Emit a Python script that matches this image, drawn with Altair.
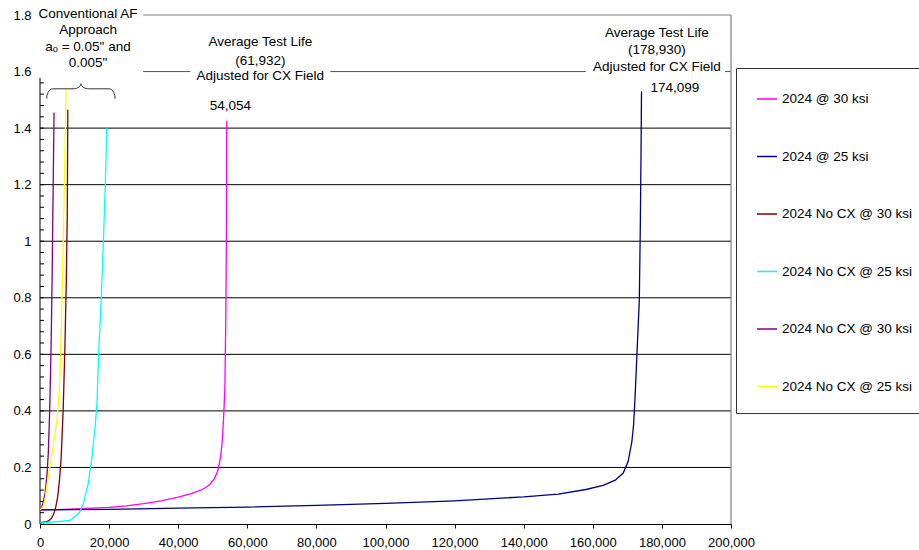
import altair as alt
import pandas as pd
import numpy as np

# ---------------- data ----------------
series_ids = ["s1", "s2", "s3", "s4", "s5", "s6"]
series_labels = ["2024 @ 30 ksi", "2024 @ 25 ksi", "2024 No CX @ 30 ksi",
                 "2024 No CX @ 25 ksi", "2024 No CX @ 30 ksi", "2024 No CX @ 25 ksi"]
series_colors = ["#FF00FF", "#000080", "#800000", "#00FFFF", "#800080", "#FFFF00"]

s1_n = [0, 5000, 10000, 15000, 20000, 25000, 30000, 35000, 40000, 44000, 47000, 49000,
        50500, 51500, 52300, 52800, 53200, 53500, 53750, 53950, 54054]
s1_a = [0.050, 0.051, 0.053, 0.056, 0.059, 0.064, 0.072, 0.082, 0.095, 0.108, 0.122, 0.138,
        0.160, 0.190, 0.240, 0.300, 0.390, 0.480, 0.700, 1.000, 1.425]

s2_n = [0, 20000, 40000, 60000, 80000, 100000, 120000, 140000, 150000, 158000, 163000,
        166500, 168800, 170200, 171300, 171800, 172200, 172700, 173100, 173460, 173750,
        173950, 174099]
s2_a = [0.050, 0.052, 0.056, 0.060, 0.066, 0.073, 0.082, 0.096, 0.106, 0.122, 0.137,
        0.155, 0.180, 0.220, 0.290, 0.350, 0.440, 0.580, 0.690, 0.790, 1.050,
        1.300, 1.530]

s3_n = [0, 1500, 2500, 3300, 4000, 4600, 5100, 5600, 6100, 6700, 7200, 7600, 7900, 8050]
s3_a = [0.005, 0.007, 0.011, 0.020, 0.036, 0.062, 0.095, 0.150, 0.230, 0.400, 0.620, 0.850,
        1.100, 1.465]

s4_n = [0, 5000, 8500, 9500, 10500, 11600, 12500, 13000, 14000, 14500, 15000, 15500, 16000,
        16500, 17000, 17700, 18350, 18900, 19330]
s4_a = [0.004, 0.008, 0.013, 0.020, 0.030, 0.045, 0.070, 0.095, 0.145, 0.190, 0.230, 0.290,
        0.350, 0.430, 0.610, 0.790, 1.000, 1.200, 1.400]

s5_n = [0, 500, 1000, 1500, 2000, 2400, 2800, 3200, 3500, 3700, 3900, 4060]
s5_a = [0.050, 0.060, 0.080, 0.110, 0.170, 0.250, 0.400, 0.620, 0.860, 1.080, 1.280, 1.455]

s6_n = [0, 500, 1000, 1500, 2000, 2500, 3000, 3500, 4000, 4500, 5000, 5500, 6000, 6500,
        7000, 7550]
s6_a = [0.050, 0.056, 0.065, 0.090, 0.135, 0.175, 0.210, 0.250, 0.290, 0.330, 0.380, 0.460,
        0.600, 0.870, 1.170, 1.540]

x_ticks = list(range(0, 200001, 20000))
y_ticks = [round(0.2 * i, 1) for i in range(10)]
grid_y = [0.2, 0.4, 0.6, 0.8, 1.0, 1.2, 1.4]
minor_y = [round(0.04 * i, 2) for i in range(40)]  # 0 .. 1.56

# annotation text lines
ann_text = ["Conventional AF", "Approach", "a\u2092 = 0.05\" and", "0.005\"",
            "Average Test Life", "(61,932)", "Adjusted for CX Field", "54,054",
            "Average Test Life", "(178,930)", "Adjusted for CX Field", "174,099"]
ann_x = [13900, 13900, 13900, 13900,
         63770, 63770, 63770, 55070,
         178550, 178550, 178550, 183770]
ann_y = [1.804, 1.748, 1.688, 1.632,
         1.703, 1.639, 1.583, 1.479,
         1.736, 1.675, 1.616, 1.542]

# broken 1.6 gridline segments (gaps where the annotation boxes sit)
seg16_x1 = [29855, 84058, 198260]
seg16_x2 = [43478, 157971, 200000]

# brace parameters
brace_xl, brace_xr = 1940, 21740
brace_y_end, brace_y_flat, brace_y_peak = 1.504, 1.539, 1.557
brace_rx_end, brace_rx_mid = 1740, 2300

# ---------------- frames ----------------
rows = []
for sid, ns, as_ in zip(series_ids,
                        [s1_n, s2_n, s3_n, s4_n, s5_n, s6_n],
                        [s1_a, s2_a, s3_a, s4_a, s5_a, s6_a]):
    for i, (n, a) in enumerate(zip(ns, as_)):
        rows.append({"series": sid, "idx": i, "N": n, "a": a})
curves = pd.DataFrame(rows)

grid_df = pd.DataFrame({"y": grid_y, "x1": 0, "x2": 200000})
seg_df = pd.DataFrame({"x1": seg16_x1, "x2": seg16_x2, "y": 1.6})
top_df = pd.DataFrame({"x1": [seg16_x1[0]], "x2": [200000], "y": [1.8]})
right_df = pd.DataFrame({"x": [200000], "y1": [0.0], "y2": [1.8]})
yline_df = pd.DataFrame({"x": [0], "y1": [0.0], "y2": [1.578]})
minor_df = pd.DataFrame({"y": minor_y})
ann_df = pd.DataFrame({"t": ann_text, "x": ann_x, "y": ann_y})

# brace path
xm = (brace_xl + brace_xr) / 2
th1 = np.linspace(np.pi, np.pi / 2, 10)
left_end_x = brace_xl + brace_rx_end + brace_rx_end * np.cos(th1)
left_end_y = brace_y_end + (brace_y_flat - brace_y_end) * np.sin(th1)
th2 = np.linspace(-np.pi / 2, 0, 10)
mid_x = (xm - brace_rx_mid) + brace_rx_mid * np.cos(th2)
mid_y = brace_y_peak + (brace_y_peak - brace_y_flat) * np.sin(th2)
half_x = np.concatenate([left_end_x, mid_x])
half_y = np.concatenate([left_end_y, mid_y])
bx = np.concatenate([half_x, (2 * xm - half_x)[::-1]])
by = np.concatenate([half_y, half_y[::-1]])
brace_df = pd.DataFrame({"x": bx, "y": by, "o": np.arange(len(bx))})

# ---------------- chart ----------------
FONT = "Liberation Sans"
xs = alt.Scale(domain=[0, 200000], nice=False, zero=False)
ys = alt.Scale(domain=[0, 1.8], nice=False, zero=False)

x_axis = alt.Axis(values=x_ticks, labelExpr="format(datum.value, ',')", tickSize=4,
                  tickColor="black", domainColor="black", labelPadding=8, grid=False,
                  labelOverlap=False, labelFlush=False,
                  labelFontSize=13, labelFont=FONT, labelColor="black")
y_axis = alt.Axis(values=y_ticks, labelExpr="format(datum.value, '~g')", ticks=False,
                  tickSize=0, domain=False, labelPadding=9, grid=False, labelFontSize=13,
                  labelOverlap=False, labelFont=FONT, labelColor="black")

label_expr = "".join(
    f"datum.label == '{sid}' ? '{lab}' : " for sid, lab in zip(series_ids, series_labels)
) + "datum.label"

grid = alt.Chart(grid_df).mark_rule(color="black", strokeWidth=1).encode(
    x=alt.X("x1:Q", scale=xs, axis=x_axis, title=None), x2="x2:Q",
    y=alt.Y("y:Q", scale=ys, axis=y_axis, title=None))
seg = alt.Chart(seg_df).mark_rule(color="#555555", strokeWidth=1).encode(
    x=alt.X("x1:Q", scale=xs, title=None), x2="x2:Q",
    y=alt.Y("y:Q", scale=ys, title=None))
top = alt.Chart(top_df).mark_rule(color="#808080", strokeWidth=1.2).encode(
    x=alt.X("x1:Q", scale=xs, title=None), x2="x2:Q",
    y=alt.Y("y:Q", scale=ys, title=None))
right = alt.Chart(right_df).mark_rule(color="#808080", strokeWidth=1.2).encode(
    x=alt.X("x:Q", scale=xs, title=None),
    y=alt.Y("y1:Q", scale=ys, title=None), y2="y2:Q")
yline = alt.Chart(yline_df).mark_rule(color="black", strokeWidth=1).encode(
    x=alt.X("x:Q", scale=xs, title=None),
    y=alt.Y("y1:Q", scale=ys, title=None), y2="y2:Q")
minor = alt.Chart(minor_df).mark_rule(color="black", strokeWidth=1).encode(
    x=alt.value(0), x2=alt.value(4),
    y=alt.Y("y:Q", scale=ys, title=None))

lines = alt.Chart(curves).mark_line(strokeWidth=1.3).encode(
    x=alt.X("N:Q", scale=xs, title=None),
    y=alt.Y("a:Q", scale=ys, title=None),
    color=alt.Color("series:N",
                    scale=alt.Scale(domain=series_ids, range=series_colors),
                    legend=alt.Legend(orient="none", legendX=696, legendY=53, title=None,
                                      labelExpr=label_expr, strokeColor="#333333",
                                      fillColor="white", padding=20, symbolType="stroke",
                                      symbolSize=400, symbolStrokeWidth=1.5,
                                      labelFontSize=13.5, labelFont=FONT, labelColor="black",
                                      labelOffset=4, rowPadding=39.5, labelLimit=400)),
    order="idx:Q")

brace = alt.Chart(brace_df).mark_line(color="#333333", strokeWidth=1).encode(
    x=alt.X("x:Q", scale=xs, title=None),
    y=alt.Y("y:Q", scale=ys, title=None), order="o:Q")

texts = alt.Chart(ann_df).mark_text(font=FONT, fontSize=13.5, color="black",
                                    align="center", baseline="middle").encode(
    x=alt.X("x:Q", scale=xs, title=None),
    y=alt.Y("y:Q", scale=ys, title=None), text="t:N")

chart = alt.layer(grid, seg, top, right, yline, minor, lines, brace, texts).properties(
    width=691, height=509,
    autosize=alt.AutoSizeParams(type="none"),
    padding={"left": 40, "top": 15, "right": 188, "bottom": 26},
    background="white",
).configure_view(stroke=None)

chart.save("out.html", embed_options={"renderer": "svg", "actions": False})
